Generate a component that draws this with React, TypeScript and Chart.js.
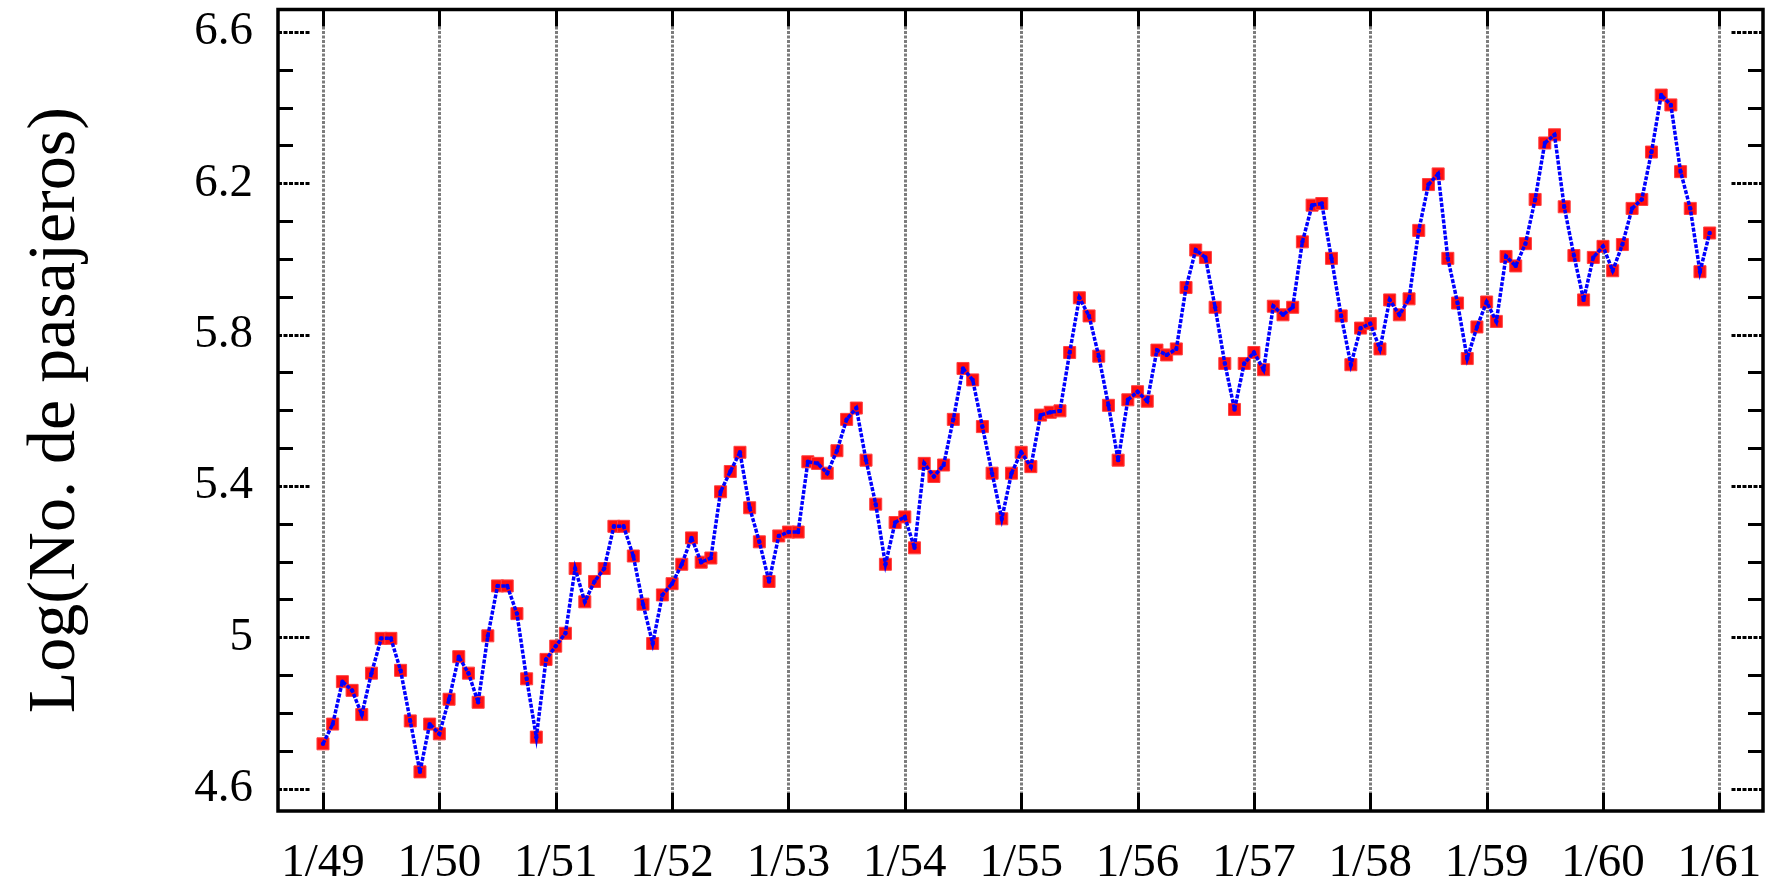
import React, { useEffect, useRef } from "react";
import { Chart, registerables } from "chart.js";

Chart.register(...registerables);

// Log(No. de pasajeros) per month, one array per year (1949..1960)
const Y1949 = [4.7185, 4.7707, 4.8828, 4.8598, 4.7958, 4.9053, 4.9972, 4.9972, 4.9127, 4.7791, 4.6444, 4.7707];
const Y1950 = [4.7449, 4.8363, 4.9488, 4.9053, 4.8283, 5.0039, 5.1358, 5.1358, 5.0626, 4.8903, 4.7362, 4.9416];
const Y1951 = [4.9767, 5.0106, 5.1818, 5.0938, 5.1475, 5.1818, 5.2933, 5.2933, 5.2149, 5.0876, 4.9836, 5.1120];
const Y1952 = [5.1417, 5.1930, 5.2627, 5.1985, 5.2095, 5.3845, 5.4381, 5.4889, 5.3423, 5.2523, 5.1475, 5.2679];
const Y1953 = [5.2781, 5.2781, 5.4638, 5.4596, 5.4337, 5.4931, 5.5759, 5.6058, 5.4681, 5.3519, 5.1930, 5.3033];
const Y1954 = [5.3181, 5.2364, 5.4596, 5.4250, 5.4553, 5.5759, 5.7104, 5.6802, 5.5568, 5.4337, 5.3132, 5.4337];
const Y1955 = [5.4889, 5.4510, 5.5872, 5.5947, 5.5984, 5.7526, 5.8972, 5.8493, 5.7430, 5.6131, 5.4681, 5.6276];
const Y1956 = [5.6490, 5.6240, 5.7589, 5.7462, 5.7621, 5.9243, 6.0234, 6.0039, 5.8721, 5.7236, 5.6021, 5.7236];
const Y1957 = [5.7526, 5.7071, 5.8749, 5.8522, 5.8721, 6.0450, 6.1420, 6.1463, 6.0014, 5.8493, 5.7203, 5.8171];
const Y1958 = [5.8289, 5.7621, 5.8916, 5.8522, 5.8944, 6.0753, 6.1964, 6.2246, 6.0014, 5.8833, 5.7366, 5.8201];
const Y1959 = [5.8861, 5.8348, 6.0064, 5.9814, 6.0403, 6.1570, 6.3063, 6.3279, 6.1377, 6.0088, 5.8916, 6.0039];
const Y1960 = [6.0331, 5.9687, 6.0379, 6.1334, 6.1570, 6.2823, 6.4329, 6.4069, 6.2305, 6.1334, 5.9661, 6.0684];

const YEARS = [Y1949, Y1950, Y1951, Y1952, Y1953, Y1954, Y1955, Y1956, Y1957, Y1958, Y1959, Y1960];

// x tick positions (month index) and labels
const X_TICKS = [0, 12, 24, 36, 48, 60, 72, 84, 96, 108, 120, 132, 144];
const X_LABELS = ["1/49", "1/50", "1/51", "1/52", "1/53", "1/54", "1/55", "1/56", "1/57", "1/58", "1/59", "1/60", "1/61"];
const Y_TICKS = [4.6, 5.0, 5.4, 5.8, 6.2, 6.6];
const Y_LABELS = ["4.6", "5", "5.4", "5.8", "6.2", "6.6"];
const Y_MINOR_STEP = 0.1;

const X_MIN = -4.64;
const X_MAX = 148.5;
const Y_MIN = 4.541;
const Y_MAX = 6.659;

const FONT = "'Liberation Serif', 'Times New Roman', serif";

const framePlugin = {
  id: "framePlugin",
  beforeDatasetsDraw(chart: any) {
    const { ctx, chartArea } = chart;
    const xs = chart.scales.x;
    ctx.save();
    ctx.strokeStyle = "#7c7c7c";
    ctx.lineWidth = 3;
    ctx.setLineDash([3, 1.5]);
    for (const v of X_TICKS) {
      const px = Math.round(xs.getPixelForValue(v)) + 0.5;
      ctx.beginPath();
      ctx.moveTo(px, chartArea.top + 17);
      ctx.lineTo(px, chartArea.bottom - 18);
      ctx.stroke();
    }
    ctx.restore();
  },
  afterDatasetsDraw(chart: any) {
    const { ctx, chartArea } = chart;
    const xs = chart.scales.x;
    const ys = chart.scales.y;
    const { left, right, top, bottom } = chartArea;
    ctx.save();
    ctx.strokeStyle = "#000";
    ctx.lineWidth = 3;
    ctx.setLineDash([]);
    for (const v of X_TICKS) {
      const px = Math.round(xs.getPixelForValue(v)) + 0.5;
      ctx.beginPath();
      ctx.moveTo(px, top);
      ctx.lineTo(px, top + 17);
      ctx.moveTo(px, bottom);
      ctx.lineTo(px, bottom - 18);
      ctx.stroke();
    }
    ctx.lineWidth = 3;
    for (let v = Y_TICKS[0]; v <= Y_TICKS[Y_TICKS.length - 1] + 1e-6; v += Y_MINOR_STEP) {
      const isMajor = Y_TICKS.some((t) => Math.abs(t - v) < 1e-6);
      const py = Math.round(ys.getPixelForValue(v)) + 0.5;
      if (isMajor) {
        ctx.setLineDash([4, 1.5]);
        ctx.beginPath();
        ctx.moveTo(left, py);
        ctx.lineTo(left + 32, py);
        ctx.moveTo(right, py);
        ctx.lineTo(right - 33, py);
        ctx.stroke();
      } else {
        ctx.setLineDash([]);
        ctx.beginPath();
        ctx.moveTo(left, py);
        ctx.lineTo(left + 15, py);
        ctx.moveTo(right, py);
        ctx.lineTo(right - 15, py);
        ctx.stroke();
      }
    }
    ctx.setLineDash([]);
    ctx.lineWidth = 3.5;
    ctx.beginPath();
    ctx.rect(left, top, right - left, bottom - top);
    ctx.stroke();
    ctx.restore();
  },
};

export default function App() {
  const ref = useRef<HTMLCanvasElement | null>(null);

  useEffect(() => {
    if (!ref.current) return;
    const points: { x: number; y: number }[] = [];
    YEARS.forEach((arr, yi) => arr.forEach((v, mi) => points.push({ x: yi * 12 + mi, y: v })));

    const chart = new Chart(ref.current, {
      type: "line",
      data: {
        datasets: [
          {
            label: "markers",
            data: points,
            showLine: false,
            pointStyle: "rect",
            pointRadius: 8.5,
            pointBackgroundColor: "#ff1010",
            pointBorderColor: "#ff4040",
            pointBorderWidth: 1,
            order: 2,
          },
          {
            label: "line",
            data: points,
            borderColor: "#0000ff",
            borderWidth: 3.5,
            borderDash: [4, 1.5],
            pointRadius: 2.2,
            pointBackgroundColor: "#0000ff",
            pointBorderWidth: 0,
            tension: 0,
            fill: false,
            order: 1,
          },
        ],
      },
      options: {
        animation: false,
        responsive: false,
        maintainAspectRatio: false,
        layout: { padding: { top: 9, right: 19, left: 0, bottom: 0 } },
        plugins: {
          legend: { display: false },
          tooltip: { enabled: false },
        },
        scales: {
          x: {
            type: "linear",
            min: X_MIN,
            max: X_MAX,
            grid: { display: false, drawTicks: false },
            border: { display: false },
            afterBuildTicks: (scale: any) => {
              scale.ticks = X_TICKS.map((v) => ({ value: v }));
            },
            afterFit: (scale: any) => {
              scale.height = 73;
              scale.paddingLeft = 0;
              scale.paddingRight = 0;
            },
            ticks: {
              autoSkip: false,
              maxRotation: 0,
              minRotation: 0,
              padding: 24,
              color: "#000",
              font: { family: FONT, size: 47 },
              callback: (v: any) => {
                const i = X_TICKS.indexOf(Number(v));
                return i >= 0 ? X_LABELS[i] : "";
              },
            },
          },
          y: {
            type: "linear",
            min: Y_MIN,
            max: Y_MAX,
            grid: { display: false, drawTicks: false },
            border: { display: false },
            afterBuildTicks: (scale: any) => {
              scale.ticks = Y_TICKS.map((v) => ({ value: v }));
            },
            afterFit: (scale: any) => {
              scale.width = 278;
              scale.paddingTop = 0;
              scale.paddingBottom = 0;
            },
            title: {
              display: true,
              text: "Log(No. de pasajeros)",
              color: "#000",
              font: { family: FONT, size: 68, weight: "normal" },
              padding: { top: 15, bottom: 0 },
            },
            ticks: {
              autoSkip: false,
              padding: 25,
              color: "#000",
              font: { family: FONT, size: 47 },
              callback: (v: any) => {
                const i = Y_TICKS.findIndex((t) => Math.abs(t - Number(v)) < 1e-6);
                return i >= 0 ? Y_LABELS[i] : "";
              },
            },
          },
        },
      },
      plugins: [framePlugin],
    });
    return () => chart.destroy();
  }, []);

  return (
    <div style={{ position: "fixed", left: 0, top: 0, width: 1782, height: 884, background: "#fff" }}>
      <canvas ref={ref} width={1782} height={884} style={{ width: 1782, height: 884, display: "block" }} />
    </div>
  );
}
